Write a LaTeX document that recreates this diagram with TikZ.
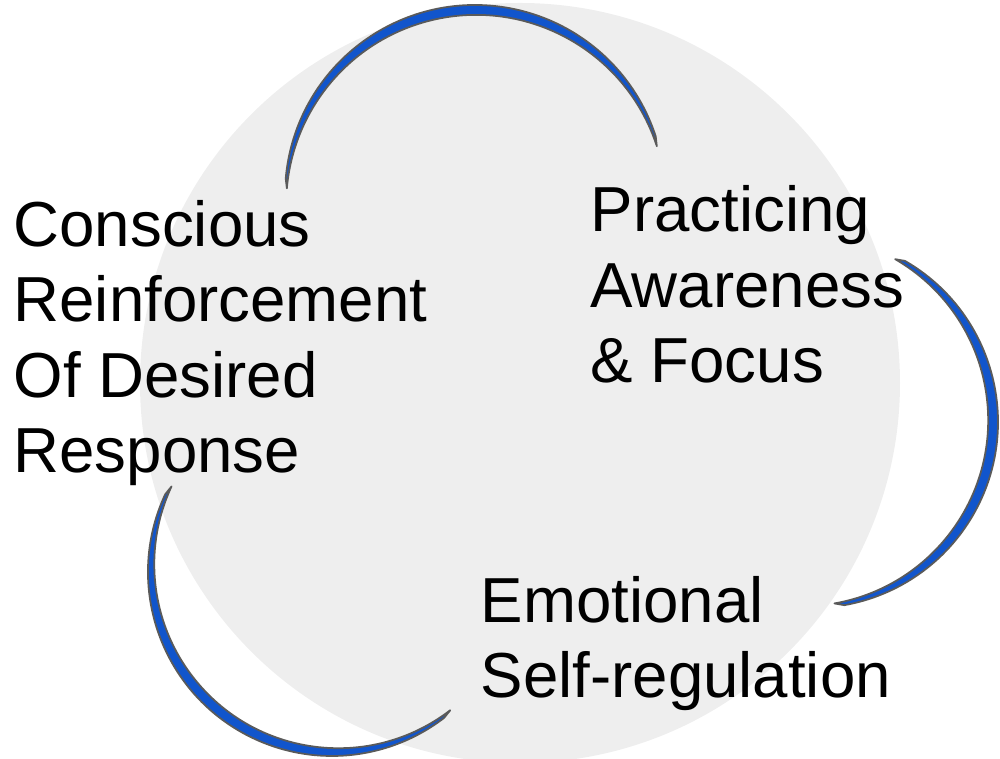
\documentclass[tikz,border=0pt]{standalone}
\usepackage{fontspec}
\setmainfont{Liberation Sans}
\usetikzlibrary{calc}

\definecolor{discgray}{HTML}{EEEEEE}
\definecolor{arcblue}{HTML}{1155CC}
\definecolor{arcedge}{HTML}{5A5A5A}

\tikzset{
    label text/.style={anchor=base west, inner sep=0pt, align=left,
        font=\fontsize{18.1pt}{21.5pt}\selectfont},
    crescent/.style={fill=arcblue, draw=arcedge, line width=0.5pt, line join=round},
}

\begin{document}
\begin{tikzpicture}[x=0.1mm, y=0.1mm]
    \useasboundingbox (0,0) rectangle (1000,759);

    \coordinate (mid) at (520,376);
    \coordinate (ctop) at (475,564);
    \coordinate (cright) at (812,337);
    \coordinate (cleft) at (332,187);

    \fill[discgray] (mid) circle (380);

    % top arc
    \filldraw[crescent] (ctop) ++(175:190)
        arc[start angle=175, end angle=18, radius=190]
        -- ++(276.5:10)
        arc[start angle=18, end angle=175, radius=190]
        -- cycle;

    % right arc
    \filldraw[crescent] (cright) ++(60:186)
        arc[start angle=60, end angle=-80, radius=186]
        -- ++(170:10)
        arc[start angle=-80, end angle=60, radius=186]
        -- cycle;

    % lower left arc
    \filldraw[crescent] (cleft) ++(155:184)
        arc[start angle=155, end angle=307.5, radius=184]
        -- ++(51:10)
        arc[start angle=307.5, end angle=155, radius=184]
        -- cycle;

    % base anchor sits on the last line
    \node[label text] (conscious) at (13,286)
        {Conscious\\Reinforcement\\Of Desired\\Response};
    \node[label text] (practicing) at (590,376)
        {Practicing\\Awareness\\\& Focus};
    \node[label text] (emotional) at (480,61)
        {Emotional\\Self-regulation};

\end{tikzpicture}
\end{document}
